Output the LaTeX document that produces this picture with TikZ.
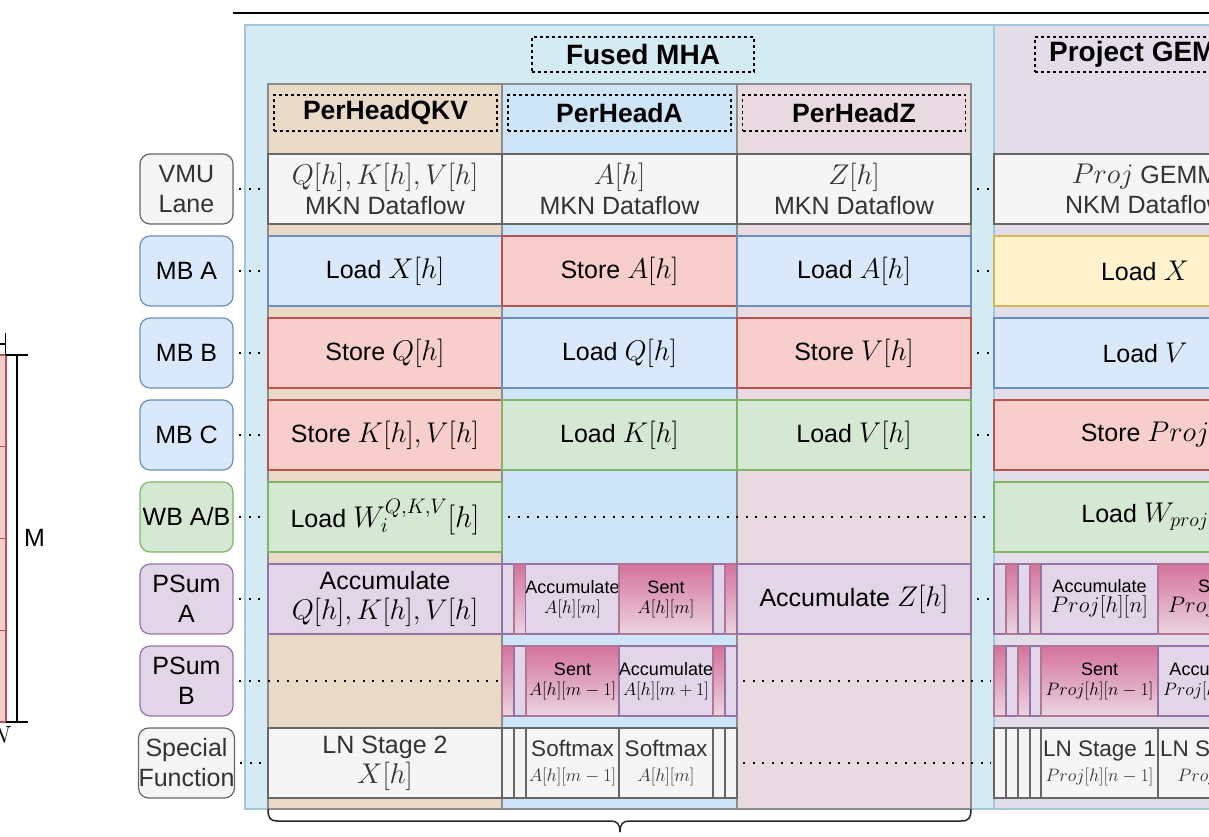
\documentclass[tikz,border=0pt]{standalone}
\usepackage{fix-cm}
\usepackage[no-math]{fontspec}
\setmainfont{Liberation Sans}

% palette
\definecolor{cBlueF}{HTML}{DAE8FC}\definecolor{cBlueS}{HTML}{6C8EBF}
\definecolor{cRedF}{HTML}{F8CECC}\definecolor{cRedS}{HTML}{B85450}
\definecolor{cGrnF}{HTML}{D5E8D4}\definecolor{cGrnS}{HTML}{82B366}
\definecolor{cYelF}{HTML}{FFF2CC}\definecolor{cYelS}{HTML}{D6B656}
\definecolor{cPurF}{HTML}{E1D5E7}\definecolor{cPurS}{HTML}{9673A6}
\definecolor{cGryF}{HTML}{F5F5F5}\definecolor{cGryS}{HTML}{666666}
\definecolor{cGryT}{HTML}{333333}
\definecolor{cSentT}{HTML}{D5739D}\definecolor{cSentB}{HTML}{EAD4E0}\definecolor{cSentS}{HTML}{B07896}
\definecolor{cFusedF}{HTML}{D4EBF4}\definecolor{cFusedS}{HTML}{A3C6DB}
\definecolor{cProjF}{HTML}{E3DDEA}
\definecolor{cColQ}{HTML}{E8DAC6}
\definecolor{cColA}{HTML}{CEE5F8}
\definecolor{cColZ}{HTML}{E9DAE1}
\definecolor{cColS}{HTML}{8C8C8C}

\newcommand\fmain{\fontsize{25}{30}\selectfont}
\newcommand\fsoft{\fontsize{22.5}{25}\selectfont}
\newcommand\fsmall{\fontsize{18}{20}\selectfont}
\newcommand\ftitle{\fontsize{26.5}{30}\selectfont\bfseries}
\newcommand\fbig{\fontsize{28}{30}\selectfont\bfseries}
% formulas in the full-size cells are set a little larger than the words
\newcommand\M[1]{{\fontsize{28.5}{30}\selectfont$#1$}}
\newcommand\Mm[1]{{\fontsize{22.5}{22}\selectfont$#1$}}

% \cellat{name}{x1}{y1}{x2}{y2}{style}{text}
\newcommand\cellat[7]{%
  \node[#6, minimum width={(#4)-(#2)}, minimum height={(#5)-(#3)}] (#1)
    at ({((#2)+(#4))/2},{((#3)+(#5))/2}) {#7};}

\begin{document}
\begin{tikzpicture}[x=1pt,y=-1pt,
  cell/.style={draw, line width=1.2pt, inner sep=0pt, outer sep=0pt, align=center, font=\fmain, text=black},
  blu/.style={cell, fill=cBlueF, draw=cBlueS},
  red/.style={cell, fill=cRedF, draw=cRedS},
  grn/.style={cell, fill=cGrnF, draw=cGrnS},
  yel/.style={cell, fill=cYelF, draw=cYelS},
  pur/.style={cell, fill=cPurF, draw=cPurS},
  gry/.style={cell, fill=cGryF, draw=cGryS, text=cGryT},
  snt/.style={cell, draw=cSentS, top color=cSentT, bottom color=cSentB, font=\fsmall},
  lab/.style={rounded corners=10pt},
  hdr/.style={draw=black, line width=1.2pt, dash pattern=on 3pt off 3pt, inner sep=0pt, font=\ftitle},
  dotline/.style={line width=2pt, dash pattern=on 2pt off 7.5pt, shorten <=6pt, shorten >=3pt},
  col/.style={draw=cColS, line width=1.2pt},
]
\useasboundingbox (0,0) rectangle (1209,837);
\clip (0,0) rectangle (1209,837);

% ---------- group frames ----------
\draw[fill=cFusedF, draw=cFusedS, line width=1.2pt] (245,25) rectangle (994,809);
\draw[fill=cProjF, draw=cFusedS, line width=1.2pt] (994,25) rectangle (1320,809);

% per-head columns
\draw[col, fill=cColQ] (268,84) rectangle (502,809);
\draw[col, fill=cColA] (502,84) rectangle (737,809);
\draw[col, fill=cColZ] (737,84) rectangle (971,809);

% titles
\node[hdr, font=\fbig, minimum width=222, minimum height=35] (tFused) at (643,54.5) {Fused MHA};
\node[hdr, font=\fbig, minimum width=218, minimum height=35] (tProj) at (1144,54.5) {Project GEMM};
\node[hdr, minimum width=223, minimum height=36] (tQKV) at (385.5,113) {PerHeadQKV};
\node[hdr, minimum width=223, minimum height=36] (tA) at (619.5,113) {PerHeadA};
\node[hdr, minimum width=223, minimum height=36] (tZ) at (854,113) {PerHeadZ};

% ---------- lane labels ----------
\cellat{l0}{140}{154}{233}{224}{gry,lab}{VMU\\Lane}
\cellat{l1}{140}{236}{233}{306}{blu,lab}{MB A}
\cellat{l2}{140}{318}{233}{388}{blu,lab}{MB B}
\cellat{l3}{140}{400}{233}{470}{blu,lab}{MB C}
\cellat{l4}{140}{482}{233}{552}{grn,lab}{WB A/B}
\cellat{l5}{140}{564}{233}{634}{pur,lab}{PSum\\A}
\cellat{l6}{140}{646}{233}{716}{pur,lab}{PSum\\B}
\cellat{l7}{140}{728}{233}{798}{gry,lab}{Special\\Function}

% ---------- PerHeadQKV ----------
\cellat{q0}{268}{154}{502}{224}{gry}{\M{Q[h],K[h],V[h]}\\MKN Dataflow}
\cellat{q1}{268}{236}{502}{306}{blu}{Load \M{X[h]}}
\cellat{q2}{268}{318}{502}{388}{red}{Store \M{Q[h]}}
\cellat{q3}{268}{400}{502}{470}{red}{Store \M{K[h],V[h]}}
\cellat{q4}{268}{482}{502}{552}{grn}{Load {\fontsize{30}{30}\selectfont$W_i^{Q,K,V}[h]$}}
\cellat{q5}{268}{564}{502}{634}{pur}{Accumulate\\\M{Q[h],K[h],V[h]}}
\cellat{q7}{268}{728}{502}{798}{gry}{LN Stage 2\\\M{X[h]}}

% ---------- PerHeadA ----------
\cellat{a0}{502}{154}{737}{224}{gry}{\M{A[h]}\\MKN Dataflow}
\cellat{a1}{502}{236}{737}{306}{red}{Store \M{A[h]}}
\cellat{a2}{502}{318}{737}{388}{blu}{Load \M{Q[h]}}
\cellat{a3}{502}{400}{737}{470}{grn}{Load \M{K[h]}}
\cellat{a5a}{502}{564}{514}{634}{pur}{}
\cellat{a5b}{514}{564}{526}{634}{snt}{}
\cellat{a5c}{526}{564}{619}{634}{pur,font=\fsmall}{Accumulate\\$A[h][m]$}
\cellat{a5d}{619}{564}{713}{634}{snt}{Sent\\$A[h][m]$}
\cellat{a5e}{713}{564}{725}{634}{pur}{}
\cellat{a5f}{725}{564}{737}{634}{snt}{}
\cellat{a6a}{502}{646}{514}{716}{snt}{}
\cellat{a6b}{514}{646}{526}{716}{pur}{}
\cellat{a6c}{526}{646}{619}{716}{snt}{Sent\\$A[h][m-1]$}
\cellat{a6d}{619}{646}{713}{716}{pur,font=\fsmall}{Accumulate\\$A[h][m+1]$}
\cellat{a6e}{713}{646}{725}{716}{snt}{}
\cellat{a6f}{725}{646}{737}{716}{pur}{}
\cellat{a7a}{502}{728}{514}{798}{gry}{}
\cellat{a7b}{514}{728}{526}{798}{gry}{}
\cellat{a7c}{526}{728}{619}{798}{gry,font=\fsoft}{Softmax\\{\fsmall$A[h][m-1]$}}
\cellat{a7d}{619}{728}{713}{798}{gry,font=\fsoft}{Softmax\\{\fsmall$A[h][m]$}}
\cellat{a7e}{713}{728}{725}{798}{gry}{}
\cellat{a7f}{725}{728}{737}{798}{gry}{}

% ---------- PerHeadZ ----------
\cellat{z0}{737}{154}{971}{224}{gry}{\M{Z[h]}\\MKN Dataflow}
\cellat{z1}{737}{236}{971}{306}{blu}{Load \M{A[h]}}
\cellat{z2}{737}{318}{971}{388}{red}{Store \M{V[h]}}
\cellat{z3}{737}{400}{971}{470}{grn}{Load \M{V[h]}}
\cellat{z5}{737}{564}{971}{634}{pur}{Accumulate \M{Z[h]}}

% ---------- Project GEMM ----------
\cellat{p0}{994}{154}{1296}{224}{gry}{\M{Proj} GEMM\\NKM Dataflow}
\cellat{p1}{994}{236}{1296}{306}{yel}{Load \M{X}}
\cellat{p2}{994}{318}{1296}{388}{blu}{Load \M{V}}
\cellat{p3}{994}{400}{1296}{470}{red}{Store \M{Proj}}
\cellat{p4}{994}{482}{1296}{552}{grn}{Load \M{W_{proj}}}
\cellat{p5a}{994}{564}{1006}{634}{pur}{}
\cellat{p5b}{1006}{564}{1018}{634}{snt}{}
\cellat{p5c}{1018}{564}{1030}{634}{pur}{}
\cellat{p5d}{1030}{564}{1041}{634}{snt}{}
\cellat{p5e}{1041}{564}{1158}{634}{pur,font=\fsmall}{Accumulate\\\Mm{Proj[h][n]}}
\cellat{p5f}{1158}{564}{1275}{634}{snt}{Sent\\\Mm{Proj[h][n]}}
\cellat{p6a}{994}{646}{1006}{716}{snt}{}
\cellat{p6b}{1006}{646}{1018}{716}{pur}{}
\cellat{p6c}{1018}{646}{1030}{716}{snt}{}
\cellat{p6d}{1030}{646}{1041}{716}{pur}{}
\cellat{p6e}{1041}{646}{1158}{716}{snt}{Sent\\$Proj[h][n-1]$}
\cellat{p6f}{1158}{646}{1275}{716}{pur,font=\fsmall}{Accumulate\\$Proj[h][n+1]$}
\cellat{p7a}{994}{728}{1006}{798}{gry}{}
\cellat{p7b}{1006}{728}{1018}{798}{gry}{}
\cellat{p7c}{1018}{728}{1030}{798}{gry}{}
\cellat{p7d}{1030}{728}{1041}{798}{gry}{}
\cellat{p7e}{1041}{728}{1158}{798}{gry,font=\fsoft}{LN Stage 1\\{\fsmall$Proj[h][n-1]$}}
\cellat{p7f}{1158}{728}{1275}{798}{gry,font=\fsoft}{LN Stage 1\\{\fsmall$Proj[h][n]$}}

% ---------- lane continuations ----------
\draw[dotline] (l0.east) -- (q0.west);
\draw[dotline] (l1.east) -- (q1.west);
\draw[dotline] (l2.east) -- (q2.west);
\draw[dotline] (l3.east) -- (q3.west);
\draw[dotline] (l4.east) -- (q4.west);
\draw[dotline] (l5.east) -- (q5.west);
\draw[dotline] (l6.east) -- (a6a.west);
\draw[dotline] (l7.east) -- (q7.west);
\draw[dotline] (q4.east) -- (p4.west);
\draw[dotline] (a6f.east) -- (p6a.west);
\draw[dotline] (a7f.east) -- (p7a.west);
\draw[dotline] (z0.east) -- (p0.west);
\draw[dotline] (z1.east) -- (p1.west);
\draw[dotline] (z2.east) -- (p2.west);
\draw[dotline] (z3.east) -- (p3.west);
\draw[dotline] (z5.east) -- (p5a.west);

% ---------- rule and brace ----------
\draw[line width=2pt] (233,13) -- (1209,13);
\draw[line width=1.5pt, black!85] (268,809) .. controls (268,818) and (270,821) .. (278,821)
  -- (611,821) .. controls (617,821) and (620,824) .. (620,832)
  .. controls (620,824) and (623,821) .. (629,821)
  -- (961,821) .. controls (969,821) and (971,818) .. (971,809);

% ---------- matrix sketch at the left ----------
\draw[fill=cRedF, draw=cRedS, line width=1.2pt] (-10,355) rectangle (6,722);
\foreach \yy in {446.75,538.5,630.25} \draw[cRedS, line width=1.2pt] (-10,\yy) -- (6,\yy);
\draw[line width=1.5pt] (6,355) -- (28,355) (17,355) -- (17,722) (6,722) -- (28,722);
\draw[line width=1.5pt] (5.5,333) -- (5.5,355) (-2,344) -- (5.5,344);
\node[font=\fmain, anchor=west, inner sep=0pt] (mlab) at (24,538) {M};
\node[font=\fmain, inner sep=0pt] (nlab) at (1,735) {$N$};
\end{tikzpicture}
\end{document}
